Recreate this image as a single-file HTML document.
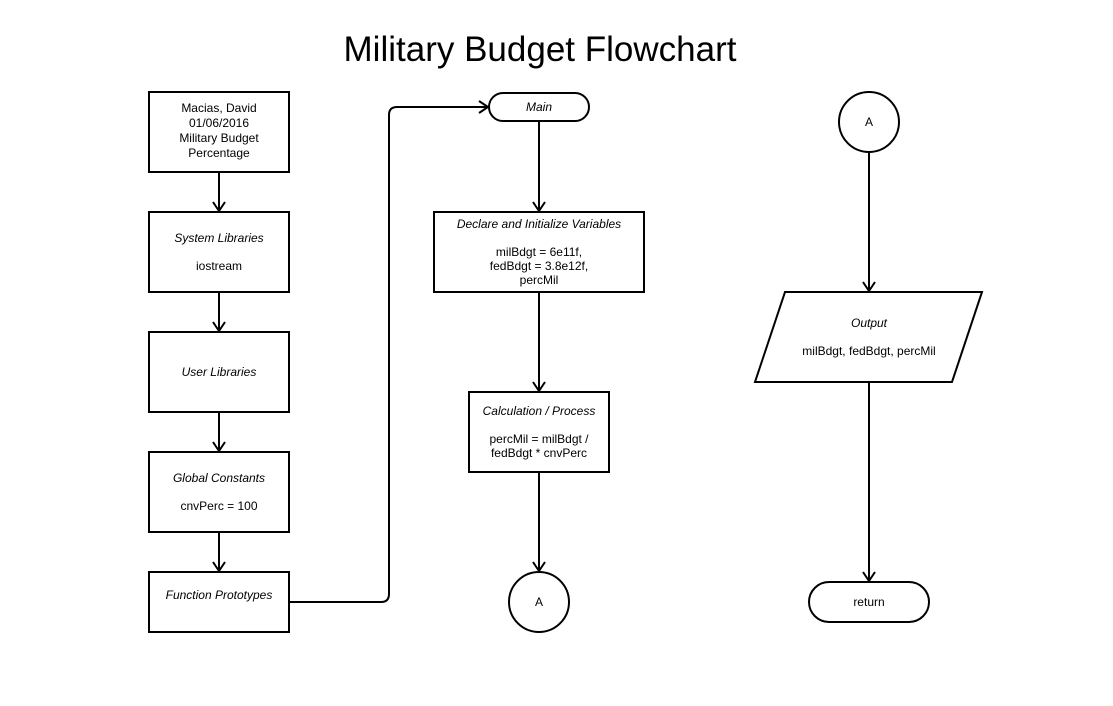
<!DOCTYPE html>
<html><head><style>
body{margin:0;background:#fff;}
svg{display:block;}
text{font-family:"Liberation Sans",Arial,sans-serif;font-size:12px;fill:#000;}
.i{font-style:italic;}
</style></head><body>
<svg width="1113" height="706" viewBox="0 0 1113 706">
<defs><marker id="a" markerWidth="14" markerHeight="14" refX="11" refY="7" orient="auto" markerUnits="userSpaceOnUse"><path d="M2,1 L11,7 L2,13" fill="none" stroke="#000" stroke-width="2"/></marker></defs>
<rect width="1113" height="706" fill="#fff"/>
<text x="540" y="61" text-anchor="middle" style="font-size:35px">Military Budget Flowchart</text>
<g fill="#fff" stroke="#000" stroke-width="2">
<rect x="149" y="92" width="140" height="80"/>
<rect x="149" y="212" width="140" height="80"/>
<rect x="149" y="332" width="140" height="80"/>
<rect x="149" y="452" width="140" height="80"/>
<rect x="149" y="572" width="140" height="60"/>
<rect x="489" y="93" width="100" height="28" rx="14"/>
<rect x="434" y="212" width="210" height="80"/>
<rect x="469" y="392" width="140" height="80"/>
<circle cx="539" cy="602" r="30"/>
<circle cx="869" cy="122" r="30"/>
<polygon points="785,292 982,292 952,382 755,382"/>
<rect x="809" y="582" width="120" height="40" rx="20"/>
</g>
<g stroke="#000" stroke-width="2" fill="none" marker-end="url(#a)">
<line x1="219" y1="172" x2="219" y2="211"/>
<line x1="219" y1="292" x2="219" y2="331"/>
<line x1="219" y1="412" x2="219" y2="451"/>
<line x1="219" y1="532" x2="219" y2="571"/>
<path d="M289,602 H381 Q389,602 389,594 V115 Q389,107 397,107 H488"/>
<line x1="539" y1="121" x2="539" y2="211"/>
<line x1="539" y1="292" x2="539" y2="391"/>
<line x1="539" y1="472" x2="539" y2="571"/>
<line x1="869" y1="152" x2="869" y2="291"/>
<line x1="869" y1="382" x2="869" y2="581"/>
</g>
<g text-anchor="middle">
<text x="219" y="112">Macias, David</text>
<text x="219" y="127">01/06/2016</text>
<text x="219" y="142">Military Budget</text>
<text x="219" y="157">Percentage</text>
<text x="219" y="242" class="i">System Libraries</text>
<text x="219" y="270">iostream</text>
<text x="219" y="376" class="i">User Libraries</text>
<text x="219" y="482" class="i">Global Constants</text>
<text x="219" y="510">cnvPerc = 100</text>
<text x="219" y="599" class="i">Function Prototypes</text>
<text x="539" y="111" class="i">Main</text>
<text x="539" y="228" class="i">Declare and Initialize Variables</text>
<text x="539" y="256">milBdgt = 6e11f,</text>
<text x="539" y="270">fedBdgt = 3.8e12f,</text>
<text x="539" y="284">percMil</text>
<text x="539" y="415" class="i">Calculation / Process</text>
<text x="539" y="443">percMil = milBdgt /</text>
<text x="539" y="457">fedBdgt * cnvPerc</text>
<text x="539" y="606">A</text>
<text x="869" y="126">A</text>
<text x="869" y="327" class="i">Output</text>
<text x="869" y="355">milBdgt, fedBdgt, percMil</text>
<text x="869" y="606">return</text>
</g>
</svg>
</body></html>
